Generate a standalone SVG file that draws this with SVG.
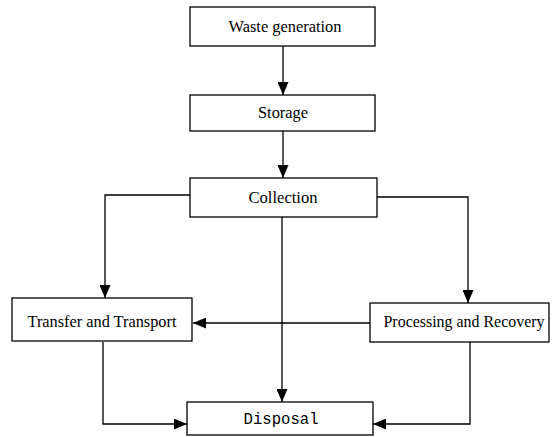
<svg xmlns="http://www.w3.org/2000/svg" width="555" height="437" viewBox="0 0 555 437">
<defs>
<marker id="ah" viewBox="0 0 13 11" refX="13" refY="5.5" markerWidth="13" markerHeight="11" markerUnits="userSpaceOnUse" orient="auto">
<path d="M0,0 L13,5.5 L0,11 Z" fill="#000"/>
</marker>
<style>
.box{fill:#fff;stroke:#000;stroke-width:1.3}
.lbl{font-family:"Liberation Serif","Times New Roman",serif;font-size:17px;fill:#000;text-anchor:middle}
.mono{font-family:"Liberation Mono","Courier New",monospace;font-size:16px;fill:#000;text-anchor:middle}
.con{fill:none;stroke:#000;stroke-width:1.3;marker-end:url(#ah)}
</style>
</defs>
<rect width="555" height="437" fill="#fff"/>
<g id="connectors">
<path class="con" d="M283,46 V95"/>
<path class="con" d="M283,131 V178"/>
<path class="con" d="M190,195 H105 V298"/>
<path class="con" d="M377,197 H468 V303"/>
<path class="con" d="M370,323 H193"/>
<path class="con" d="M282,217 V402"/>
<path class="con" d="M103,342 V424 H187"/>
<path class="con" d="M470,342 V424 H373"/>
</g>
<g id="waste-generation">
<rect class="box" x="190" y="7" width="185" height="39"/>
<text class="lbl" x="285" y="32" textLength="113" lengthAdjust="spacingAndGlyphs">Waste generation</text>
</g>
<g id="storage">
<rect class="box" x="190" y="95" width="185" height="36"/>
<text class="lbl" x="283" y="118" textLength="50" lengthAdjust="spacingAndGlyphs">Storage</text>
</g>
<g id="collection">
<rect class="box" x="190" y="178" width="187" height="39"/>
<text class="lbl" x="283" y="203" textLength="69" lengthAdjust="spacingAndGlyphs">Collection</text>
</g>
<g id="transfer-transport">
<rect class="box" x="12" y="298" width="180" height="43"/>
<text class="lbl" x="102" y="327" textLength="149" lengthAdjust="spacingAndGlyphs">Transfer and Transport</text>
</g>
<g id="processing-recovery">
<rect class="box" x="370" y="303" width="179" height="39"/>
<text class="lbl" x="464" y="327" textLength="161" lengthAdjust="spacingAndGlyphs">Processing and Recovery</text>
</g>
<g id="disposal">
<rect class="box" x="187" y="402" width="186" height="33"/>
<text class="mono" x="281" y="424" textLength="75" lengthAdjust="spacingAndGlyphs">Disposal</text>
</g>
</svg>
